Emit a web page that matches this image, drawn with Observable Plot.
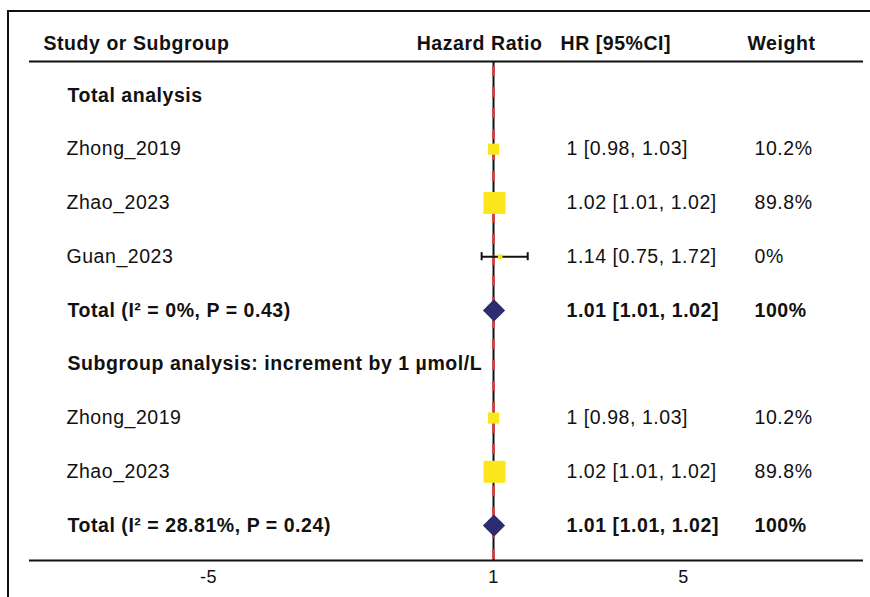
<!DOCTYPE html>
<html><head><meta charset="utf-8">
<script src="https://cdn.jsdelivr.net/npm/d3@7"></script>
<script src="https://cdn.jsdelivr.net/npm/@observablehq/plot@0.6"></script>
<style>
body{margin:0;background:#fff;}
#wrap{position:relative;width:870px;height:597px;overflow:hidden;background:#fff;}
#wrap svg{position:absolute;left:0;top:0;}
#border{position:absolute;left:7px;top:10px;width:900px;height:700px;border-left:2px solid #111;border-top:2px solid #111;pointer-events:none;}
</style></head><body><div id="wrap"><div id="border"></div></div>
<script>
// ---- data ----
const columnTitles = ["Study or Subgroup", "Hazard Ratio", "HR [95%CI]", "Weight"];
const labels = [
  "Total analysis",
  "Zhong_2019",
  "Zhao_2023",
  "Guan_2023",
  "Total (I² = 0%, P = 0.43)",
  "Subgroup analysis: increment by 1 µmol/L",
  "Zhong_2019",
  "Zhao_2023",
  "Total (I² = 28.81%, P = 0.24)"
];
const rowTypes = ["group", "study", "study", "study", "total", "group", "study", "study", "total"];
const hrValues = [null, 1, 1.02, 1.14, 1.01, null, 1, 1.02, 1.01];
const lowerCI  = [null, 0.98, 1.01, 0.75, 1.01, null, 0.98, 1.01, 1.01];
const upperCI  = [null, 1.03, 1.02, 1.72, 1.02, null, 1.03, 1.02, 1.02];
const weights  = [null, 10.2, 89.8, 0, 100, null, 10.2, 89.8, 100];
const xTicks = [-5, 1, 5];
const referenceHR = 1;

// ---- table built from arrays ----
const rows = labels.map((label, i) => ({
  row: i, label, type: rowTypes[i], hr: hrValues[i], lower: lowerCI[i], upper: upperCI[i], weight: weights[i]
}));
const studies = rows.filter(d => d.type === "study");
const totals = rows.filter(d => d.type === "total");
const boldRows = rows.filter(d => d.type !== "study");
const fmtCI = d => `${d.hr} [${d.lower}, ${d.upper}]`;
const fmtW = d => `${d.weight}%`;

const yTop = -0.63, yBottom = 8.65;
const capHalf = 0.075;

const YELLOW = "#fbe61d";
const NAVY = "#2c2d70";
const RED = "#dc3a3c";
const INK = "#111";

const FONT = "'Liberation Sans', Arial, sans-serif";
const normalText = {fontFamily: FONT, fontSize: 19.5};
const boldText = {fontFamily: FONT, fontSize: 19.5, fontWeight: "bold"};

const chart = Plot.plot({
  width: 870,
  height: 597,
  marginLeft: 29,
  marginRight: 7,
  marginTop: 61,
  marginBottom: 37,
  style: {fontFamily: FONT, fontSize: "19px", color: INK, background: "transparent", overflow: "visible", letterSpacing: "0.55px"},
  x: {domain: [-8.77, 8.79]},
  y: {domain: [yTop, yBottom], reverse: true, axis: null},
  r: {type: "pow", exponent: 0.45, domain: [0, 89.8], range: [2.6, 12.4]},
  marks: [
    // header separator and bottom axis line
    Plot.ruleY([yTop, yBottom], {stroke: INK, strokeWidth: 2}),
    Plot.axisX({ticks: xTicks, tickSize: 0, tickPadding: 10, label: null, tickFormat: d => String(d), fontSize: 18, fill: INK}),
    // reference line
    Plot.ruleX([referenceHR], {stroke: INK, strokeWidth: 2}),
    Plot.ruleX([referenceHR], {stroke: RED, strokeWidth: 2.6, strokeDasharray: "10,11", strokeDashoffset: 16}),
    // confidence intervals
    Plot.ruleY(studies, {y: "row", x1: "lower", x2: "upper", stroke: INK, strokeWidth: 2}),
    Plot.ruleX(studies, {x: "lower", y1: d => d.row - capHalf, y2: d => d.row + capHalf, stroke: INK, strokeWidth: 2}),
    Plot.ruleX(studies, {x: "upper", y1: d => d.row - capHalf, y2: d => d.row + capHalf, stroke: INK, strokeWidth: 2}),
    // study squares
    Plot.dot(studies, {x: "hr", y: "row", r: "weight", symbol: "square", fill: YELLOW, stroke: null}),
    // pooled diamonds
    Plot.dot(totals, {x: "hr", y: "row", r: 10, symbol: "diamond2", fill: NAVY, stroke: null}),
    // column titles
    Plot.text([columnTitles[0]], {text: d => d, frameAnchor: "top-left", dx: 14, dy: -18, textAnchor: "start", lineAnchor: "middle", fill: INK, ...boldText}),
    Plot.text([columnTitles[1]], {text: d => d, frameAnchor: "top-left", dx: 513, dy: -18, textAnchor: "end", lineAnchor: "middle", fill: INK, ...boldText}),
    Plot.text([columnTitles[2]], {text: d => d, frameAnchor: "top-left", dx: 531, dy: -18, textAnchor: "start", lineAnchor: "middle", fill: INK, ...boldText}),
    Plot.text([columnTitles[3]], {text: d => d, frameAnchor: "top-left", dx: 718, dy: -18, textAnchor: "start", lineAnchor: "middle", fill: INK, ...boldText}),
    // row labels
    Plot.text(studies, {y: "row", text: "label", frameAnchor: "left", dx: 37, textAnchor: "start", lineAnchor: "middle", fill: INK, ...normalText}),
    Plot.text(boldRows, {y: "row", text: "label", frameAnchor: "left", dx: 38, textAnchor: "start", lineAnchor: "middle", fill: INK, ...boldText}),
    // HR [95%CI]
    Plot.text(studies, {y: "row", text: fmtCI, frameAnchor: "left", dx: 537, textAnchor: "start", lineAnchor: "middle", fill: INK, ...normalText}),
    Plot.text(totals, {y: "row", text: fmtCI, frameAnchor: "left", dx: 537, textAnchor: "start", lineAnchor: "middle", fill: INK, ...boldText}),
    // Weight
    Plot.text(studies, {y: "row", text: fmtW, frameAnchor: "left", dx: 725, textAnchor: "start", lineAnchor: "middle", fill: INK, ...normalText}),
    Plot.text(totals, {y: "row", text: fmtW, frameAnchor: "left", dx: 725, textAnchor: "start", lineAnchor: "middle", fill: INK, ...boldText})
  ]
});
document.getElementById("wrap").prepend(chart);
</script>
</body></html>
